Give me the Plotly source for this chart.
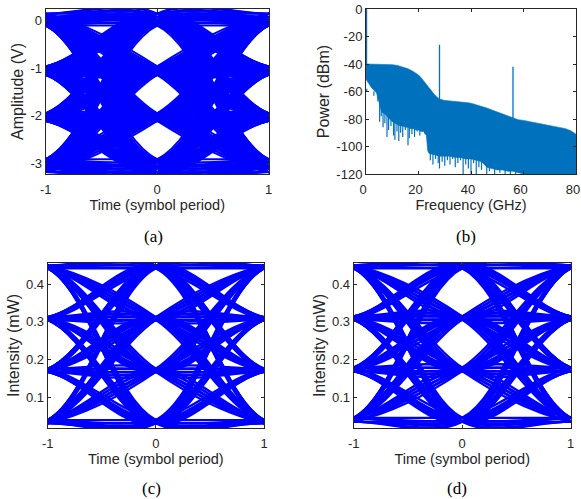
import itertools
import plotly.graph_objects as go

# ---------------- data ----------------
# eye diagrams: symbol sample times and level sets
symbol_times = [-2, -1, 0, 1, 2]
levels_a_sets = [
    [0.15, -0.96, -1.95, -2.92],
    [0.08, -1.01, -1.99, -2.99],
    [0.01, -1.05, -2.03, -3.06],
    [-0.05, -1.10, -2.07, -3.12],
    [-0.10, -1.14, -2.11, -3.19],
]
levels_c_sets = [
    [0.031, 0.167, 0.305, 0.442],
    [0.039, 0.175, 0.312, 0.449],
]
levels_d_sets = [
    [0.035, 0.169, 0.306, 0.442],
    [0.045, 0.178, 0.314, 0.450],
]

# spectrum (b)
freq_upper = [0, 5, 10, 12, 14, 16, 18, 20, 21, 22, 23, 24, 25, 26, 27, 28, 30, 34, 38, 40,
              42, 44, 46, 48, 50, 52, 54, 56, 58, 60, 64, 68, 72, 76, 78, 80]
pow_upper = [-40, -40, -40.5, -41, -42, -43.5, -45.5, -48, -50, -52.5, -55, -57.5, -60, -62,
             -64, -65.5, -66.5, -67, -68, -68.5, -69.5, -70.5, -72, -73.5, -75, -76.5, -78,
             -79.5, -80.5, -81, -82.5, -83.5, -85, -87, -88.5, -91]
freq_lower = [0, 1, 2, 3, 4, 5, 6, 7, 8, 9, 10, 11, 12, 13, 14, 15, 16, 17, 18, 19, 20, 21, 22,
              23, 23.5, 24, 26, 28, 30, 32, 34, 36, 38, 40, 42, 44, 45, 46, 48, 50, 52, 54, 56,
              58, 60, 80]
pow_lower = [-51, -54, -57, -59, -61, -68, -75, -76, -78, -80, -82, -83, -84, -85, -85, -86, -86,
             -87, -87, -88, -88, -89, -89, -92, -103, -105, -106, -107, -107, -107, -108, -108,
             -109, -109, -110, -111, -113, -115, -116, -117, -117, -118, -118, -119, -120, -120]
spike_freq = [0.3, 1.5, 3, 4.5, 5.2, 5.8, 6.5, 7.2, 8, 8.6, 9.5, 10.5, 11, 11.8, 12.5, 13.2, 14,
              15, 16, 16.5, 17.5, 18.5, 19.5, 20.5, 21.5, 22.5, 24.5, 25.5, 26.5, 27.5, 28, 29,
              30, 31, 32, 33, 34, 35, 36, 37, 38, 39, 40, 41, 42, 43, 44, 46, 47, 49, 51, 53,
              55, 57]
spike_depth = [-58, -60, -63, -67, -82, -78, -86, -83, -93, -88, -85, -92, -95, -89, -96, -90,
               -93, -88, -99, -94, -91, -93, -89, -92, -88, -91, -110, -113, -109, -112, -116,
               -111, -114, -110, -113, -109, -115, -112, -110, -120, -113, -116, -120, -112,
               -120, -115, -117, -120, -118, -120, -119, -120, -120, -120]
tone_freq = [0.2, 28, 56]
tone_top = [0, -26, -42]
tone_base = [-40, -65.5, -79.5]

# ---------------- styling ----------------
W, H = 581, 499
BLUE = "#0000FF"
MBLUE = "#0072BD"
TXT = "#262626"
FONT = "Liberation Sans, Arial, sans-serif"


def dom_x(l, r):
    return [l / W, r / W]


def dom_y(t, b):
    return [1 - b / H, 1 - t / H]


fig = go.Figure()


def eye_xy(level_sets):
    # one path per symbol triple at t=-1,0,1; outer points repeat the end symbols
    xs, ys = [], []
    for lv in level_sets:
        for a, b, c in itertools.product(range(len(lv)), repeat=3):
            xs.extend(symbol_times + [None])
            ys.extend([lv[a], lv[a], lv[b], lv[c], lv[c], None])
    return xs, ys


for sets, ax, w in [(levels_a_sets, "", 2.0), (levels_c_sets, "3", 2.4), (levels_d_sets, "4", 2.4)]:
    xs, ys = eye_xy(sets)
    fig.add_trace(go.Scatter(
        x=xs, y=ys, mode="lines", xaxis="x" + ax, yaxis="y" + ax,
        line=dict(color=BLUE, width=w, shape="spline", smoothing=1),
        hoverinfo="skip", showlegend=False))

# spectrum fill
poly_x = freq_upper + freq_lower[::-1]
poly_y = pow_upper + pow_lower[::-1]
fig.add_trace(go.Scatter(x=poly_x, y=poly_y, mode="lines", fill="toself", fillcolor=MBLUE,
                         line=dict(color=MBLUE, width=0.6), xaxis="x2", yaxis="y2",
                         hoverinfo="skip", showlegend=False))
# downward spikes
sx, sy = [], []
for f, d in zip(spike_freq, spike_depth):
    sx += [f, f, None]
    sy += [-60 if f < 23 else -100, d, None]
fig.add_trace(go.Scatter(x=sx, y=sy, mode="lines", line=dict(color=MBLUE, width=1.2),
                         xaxis="x2", yaxis="y2", hoverinfo="skip", showlegend=False))
# tones
tx, ty = [], []
for f, t, b in zip(tone_freq, tone_top, tone_base):
    tx += [f, f, None]
    ty += [b, t, None]
fig.add_trace(go.Scatter(x=tx, y=ty, mode="lines", line=dict(color=MBLUE, width=1.3),
                         xaxis="x2", yaxis="y2", hoverinfo="skip", showlegend=False))

axis_common = dict(showline=True, linecolor=TXT, linewidth=1, mirror="ticks", ticks="inside",
                   ticklen=3, tickcolor=TXT, tickwidth=1, showgrid=False, zeroline=False,
                   tickfont=dict(family=FONT, size=13, color=TXT), automargin=False,
                   ticklabeloverflow="allow")
xtitle_font = dict(family=FONT, size=14.5, color=TXT)
ytitle_font = dict(family=FONT, size=16, color=TXT)
xt = dict(ticklabelstandoff=3)

fig.update_layout(
    width=W, height=H, margin=dict(l=0, r=0, t=0, b=0),
    paper_bgcolor="white", plot_bgcolor="white",
    xaxis=dict(domain=dom_x(45.7, 268.7), anchor="y", range=[-1, 1], tickvals=[-1, 0, 1],
               ticktext=["-1", "0", "1"],
               title=dict(text="Time (symbol period)", font=xtitle_font, standoff=4),
               **xt, **axis_common),
    yaxis=dict(domain=dom_y(9, 174), anchor="x", range=[-3.23, 0.25], tickvals=[0, -1, -2, -3],
               ticktext=["0", "-1", "-2", "-3"],
               title=dict(text="Amplitude (V)", font=ytitle_font, standoff=2), **axis_common),
    xaxis2=dict(domain=dom_x(366, 576), anchor="y2", range=[0, 80], tickvals=[0, 20, 40, 60, 80],
                ticktext=["0", "20", "40", "60", "80"], ticklabelshift=-3,
                title=dict(text="Frequency (GHz)", font=xtitle_font, standoff=4),
                **xt, **axis_common),
    yaxis2=dict(domain=dom_y(9, 174), anchor="x2", range=[-120, 0],
                tickvals=[0, -20, -40, -60, -80, -100, -120],
                ticktext=["0", "-20", "-40", "-60", "-80", "-100", "-120"],
                title=dict(text="Power (dBm)", font=ytitle_font, standoff=2), **axis_common),
    xaxis3=dict(domain=dom_x(47.7, 264), anchor="y3", range=[-1, 1], tickvals=[-1, 0, 1],
                ticktext=["-1", "0", "1"],
                title=dict(text="Time (symbol period)", font=xtitle_font, standoff=4),
                **xt, **axis_common),
    yaxis3=dict(domain=dom_y(263, 428), anchor="x3", range=[0.018, 0.456],
                tickvals=[0.1, 0.2, 0.3, 0.4], ticktext=["0.1", "0.2", "0.3", "0.4"],
                title=dict(text="Intensity (mW)", font=ytitle_font, standoff=2), **axis_common),
    xaxis4=dict(domain=dom_x(353.7, 570.7), anchor="y4", range=[-1, 1], tickvals=[-1, 0, 1],
                ticktext=["-1", "0", "1"],
                title=dict(text="Time (symbol period)", font=xtitle_font, standoff=4),
                **xt, **axis_common),
    yaxis4=dict(domain=dom_y(263, 428), anchor="x4", range=[0.018, 0.456],
                tickvals=[0.1, 0.2, 0.3, 0.4], ticktext=["0.1", "0.2", "0.3", "0.4"],
                title=dict(text="Intensity (mW)", font=ytitle_font, standoff=2), **axis_common),
)

cap_font = dict(family="Liberation Serif, Times New Roman, serif", size=17, color="black")
for txt, cx, cy in [("(a)", 153, 236), ("(b)", 466, 236), ("(c)", 151, 488), ("(d)", 457, 488)]:
    fig.add_annotation(text=txt, x=cx / W, y=1 - cy / H, xref="paper", yref="paper",
                       showarrow=False, font=cap_font, xanchor="center", yanchor="middle")

fig.write_html("out.html", config={"displayModeBar": False},
               post_script="document.body.style.margin='0';document.body.style.padding='0';")
